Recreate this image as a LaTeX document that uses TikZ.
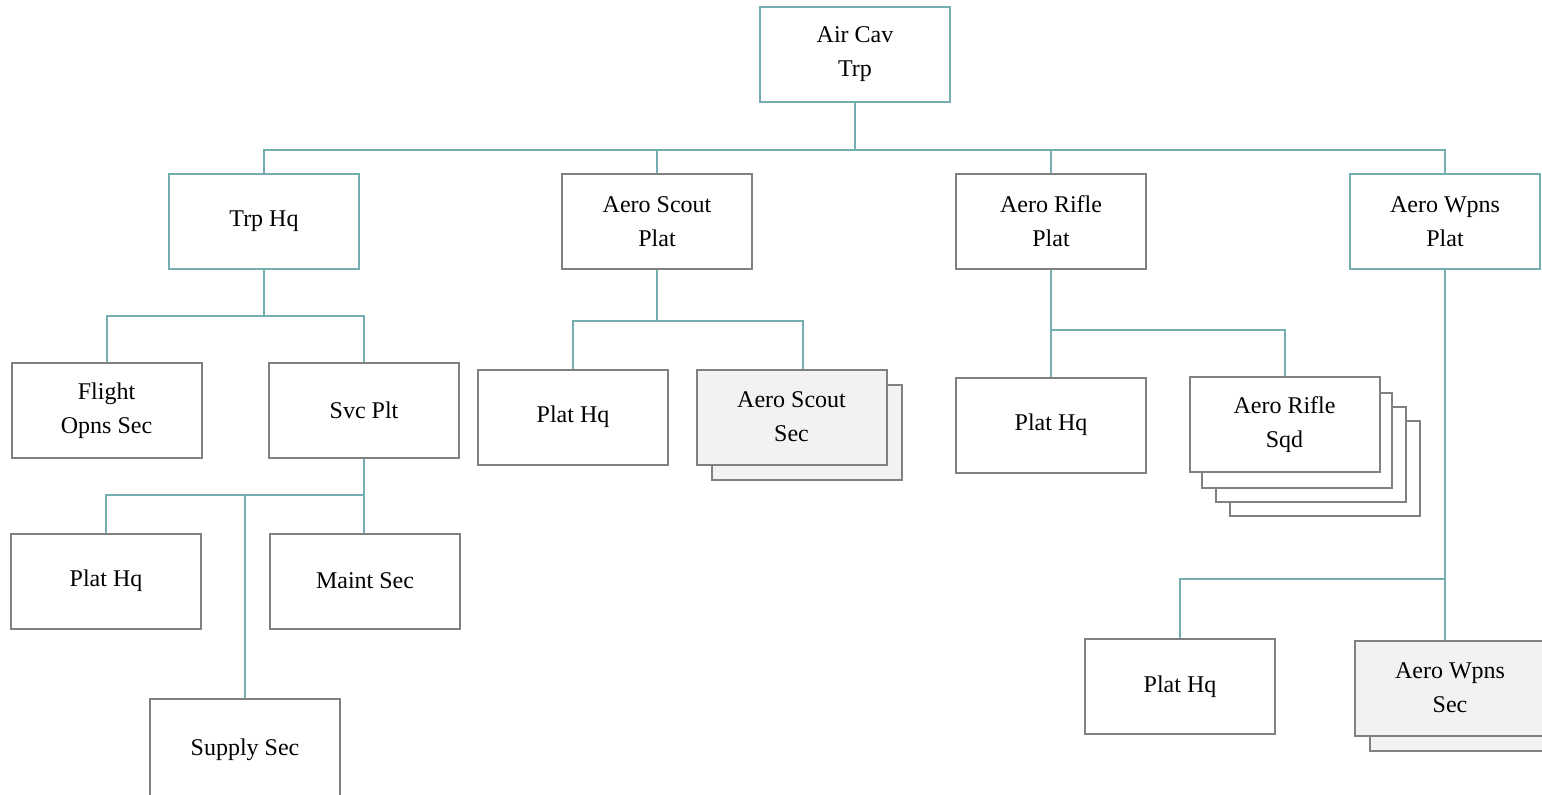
\documentclass[tikz,border=0pt]{standalone}
\usepackage{fontspec}
\setmainfont{Liberation Serif}
\definecolor{linkteal}{RGB}{116,174,176}
\definecolor{boxgray}{RGB}{128,128,128}
\definecolor{secfill}{RGB}{242,242,242}
\begin{document}
\begin{tikzpicture}[
        x=1pt, y=-1pt,
        unit/.style={draw=boxgray, line width=2pt, fill=white, align=center,
            minimum width=190pt, minimum height=95pt, inner sep=0pt,
            font=\fontsize{24}{34}\selectfont},
        hqunit/.style={unit, draw=linkteal},
        secunit/.style={unit, fill=secfill},
        link/.style={draw=linkteal, line width=2pt}
    ]
        \useasboundingbox (0,0) rectangle (1542,795);
        \clip (0,0) rectangle (1542,795);

        % top
        \node[hqunit] (cav) at (855,54.5) {Air Cav\\Trp};

        % platoons
        \node[hqunit] (trphq) at (264,221.5) {Trp Hq};
        \node[unit] (scout) at (657,221.5) {Aero Scout\\Plat};
        \node[unit] (rifle) at (1051,221.5) {Aero Rifle\\Plat};
        \node[hqunit] (wpns) at (1445,221.5) {Aero Wpns\\Plat};

        % troop hq
        \node[unit] (flight) at (106.5,410.5) {Flight\\Opns Sec};
        \node[unit] (svc) at (364,410.5) {Svc Plt};
        \node[unit] (svchq) at (106,581) {Plat Hq};
        \node[unit] (maint) at (365,581) {Maint Sec};
        \node[unit, minimum height=101pt] (supply) at (245,749.5) {Supply Sec};

        % scout plat
        \node[unit] (scouthq) at (573,417) {Plat Hq};
        \node[secunit] (scoutsecb) at (806.5,432) {};
        \node[secunit] (scoutsec) at (791.5,417) {Aero Scout\\Sec};

        % rifle plat
        \node[unit] (riflehq) at (1051,425) {Plat Hq};
        \node[unit] (sqdd) at (1325,468) {};
        \node[unit] (sqdc) at (1311,454) {};
        \node[unit] (sqdb) at (1297,440) {};
        \node[unit] (sqd) at (1284.5,424.5) {Aero Rifle\\Sqd};

        % wpns plat
        \node[unit] (wpnshq) at (1180,686.5) {Plat Hq};
        \node[secunit] (wpnssecb) at (1465,703.5) {};
        \node[secunit] (wpnssec) at (1450,688) {Aero Wpns\\Sec};

        \coordinate (bustop) at (855,150);
        \coordinate (bushq) at (264,316);
        \coordinate (bussvc) at (364,495);
        \coordinate (bussupply) at (245,495);
        \coordinate (busscout) at (657,321);
        \coordinate (busrifle) at (1051,330);
        \coordinate (buswpns) at (1445,579);

        \draw[link] (cav.south) -- (bustop) -| (trphq.north);
        \draw[link] (bustop) -| (scout.north);
        \draw[link] (bustop) -| (rifle.north);
        \draw[link] (bustop) -| (wpns.north);

        \draw[link] (trphq.south) -- (bushq) -| (flight.north);
        \draw[link] (bushq) -| (svc.north);

        \draw[link] (svc.south) -- (bussvc) -| (svchq.north);
        \draw[link] (bussvc) -- (bussvc |- maint.north);
        \draw[link] (bussupply) -- (supply.north);

        \draw[link] (scout.south) -- (busscout) -| ([xshift=11pt]scoutsec.north);
        \draw[link] (busscout) -| (scouthq.north);

        \draw[link] (rifle.south) -- (riflehq.north);
        \draw[link] (busrifle) -| (sqd.north);

        \draw[link] (wpns.south) -- (wpns.south |- wpnssec.north);
        \draw[link] (buswpns) -| (wpnshq.north);
    \end{tikzpicture}
\end{document}
